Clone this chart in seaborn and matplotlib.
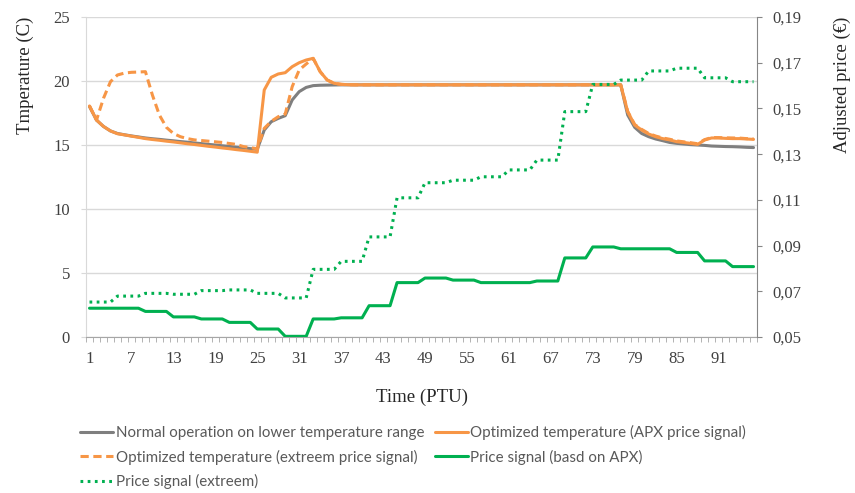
import numpy as np
import pandas as pd
import seaborn as sns
import matplotlib.pyplot as plt
from matplotlib.ticker import FixedLocator, FuncFormatter
from matplotlib.lines import Line2D

# ---------------------------------------------------------------- data
ptu = list(range(1, 97))
x_tick_labels = [1, 7, 13, 19, 25, 31, 37, 43, 49, 55, 61, 67, 73, 79, 85, 91]

temp_normal = [
    18.0, 16.95, 16.45, 16.1, 15.9, 15.8, 15.71, 15.63,
    15.55, 15.49, 15.44, 15.38, 15.33, 15.27, 15.22, 15.16,
    15.11, 15.05, 15.0, 14.94, 14.89, 14.83, 14.78, 14.72,
    14.66, 16.17, 16.82, 17.08, 17.29, 18.52, 19.17, 19.5,
    19.64, 19.67, 19.68, 19.69, 19.7, 19.7, 19.7, 19.7,
    19.7, 19.7, 19.7, 19.7, 19.7, 19.7, 19.7, 19.7,
    19.7, 19.7, 19.7, 19.7, 19.7, 19.7, 19.7, 19.7,
    19.7, 19.7, 19.7, 19.7, 19.7, 19.7, 19.7, 19.7,
    19.7, 19.7, 19.7, 19.7, 19.7, 19.7, 19.7, 19.7,
    19.7, 19.7, 19.7, 19.7, 19.7, 17.34, 16.38, 15.9,
    15.65, 15.47, 15.34, 15.2, 15.13, 15.08, 15.03, 15.0,
    14.97, 14.92, 14.9, 14.88, 14.87, 14.85, 14.82, 14.8,
]

temp_opt_apx = [
    18.05, 16.95, 16.45, 16.1, 15.88, 15.79, 15.69, 15.6,
    15.5, 15.43, 15.37, 15.3, 15.24, 15.17, 15.1, 15.04,
    14.97, 14.9, 14.84, 14.77, 14.71, 14.64, 14.58, 14.51,
    14.44, 19.3, 20.29, 20.55, 20.65, 21.12, 21.43, 21.64,
    21.77, 20.73, 20.08, 19.82, 19.74, 19.71, 19.7, 19.7,
    19.7, 19.7, 19.7, 19.7, 19.7, 19.7, 19.7, 19.7,
    19.7, 19.7, 19.7, 19.7, 19.7, 19.7, 19.7, 19.7,
    19.7, 19.7, 19.7, 19.7, 19.7, 19.7, 19.7, 19.7,
    19.7, 19.7, 19.7, 19.7, 19.7, 19.7, 19.7, 19.7,
    19.7, 19.7, 19.7, 19.7, 19.7, 17.6, 16.56, 16.17,
    15.86, 15.65, 15.5, 15.4, 15.26, 15.2, 15.13, 15.05,
    15.39, 15.55, 15.55, 15.52, 15.5, 15.5, 15.47, 15.44,
]

temp_opt_extreme = [
    18.05, 16.95, 18.65, 19.95, 20.47, 20.62, 20.68, 20.7,
    20.73, 18.9, 17.34, 16.38, 15.9, 15.65, 15.5, 15.4,
    15.35, 15.3, 15.25, 15.2, 15.12, 15.05, 14.88, 14.8,
    14.7, 16.3, 16.85, 17.21, 17.42, 19.56, 20.86, 21.33,
    21.77, 20.73, 20.08, 19.82, 19.74, 19.71, 19.7, 19.7,
    19.7, 19.7, 19.7, 19.7, 19.7, 19.7, 19.7, 19.7,
    19.7, 19.7, 19.7, 19.7, 19.7, 19.7, 19.7, 19.7,
    19.7, 19.7, 19.7, 19.7, 19.7, 19.7, 19.7, 19.7,
    19.7, 19.7, 19.7, 19.7, 19.7, 19.7, 19.7, 19.7,
    19.7, 19.7, 19.7, 19.7, 19.7, 17.62, 16.6, 16.22,
    15.9, 15.7, 15.55, 15.45, 15.32, 15.25, 15.18, 15.1,
    15.42, 15.58, 15.58, 15.56, 15.55, 15.54, 15.5, 15.48,
]

price_apx = [
    0.0626, 0.0626, 0.0626, 0.0626, 0.0626, 0.0626, 0.0626, 0.0626,
    0.0612, 0.0612, 0.0612, 0.0612, 0.0588, 0.0588, 0.0588, 0.0588,
    0.0579, 0.0579, 0.0579, 0.0579, 0.0564, 0.0564, 0.0564, 0.0564,
    0.0535, 0.0535, 0.0535, 0.0535, 0.0503, 0.0503, 0.0503, 0.0503,
    0.0579, 0.0579, 0.0579, 0.0579, 0.0584, 0.0584, 0.0584, 0.0584,
    0.0637, 0.0637, 0.0637, 0.0637, 0.0738, 0.0738, 0.0738, 0.0738,
    0.0758, 0.0758, 0.0758, 0.0758, 0.0749, 0.0749, 0.0749, 0.0749,
    0.0738, 0.0738, 0.0738, 0.0738, 0.0738, 0.0738, 0.0738, 0.0738,
    0.0745, 0.0745, 0.0745, 0.0745, 0.0846, 0.0846, 0.0846, 0.0846,
    0.0894, 0.0894, 0.0894, 0.0894, 0.0886, 0.0886, 0.0886, 0.0886,
    0.0886, 0.0886, 0.0886, 0.0886, 0.0870, 0.0870, 0.0870, 0.0870,
    0.0833, 0.0833, 0.0833, 0.0833, 0.0808, 0.0808, 0.0808, 0.0808,
]

price_extreme = [
    0.0653, 0.0653, 0.0653, 0.0653, 0.0679, 0.0679, 0.0679, 0.0679,
    0.0691, 0.0691, 0.0691, 0.0691, 0.0687, 0.0687, 0.0687, 0.0687,
    0.0703, 0.0703, 0.0703, 0.0703, 0.0706, 0.0706, 0.0706, 0.0706,
    0.0691, 0.0691, 0.0691, 0.0691, 0.0671, 0.0671, 0.0671, 0.0671,
    0.0796, 0.0796, 0.0796, 0.0796, 0.0831, 0.0831, 0.0831, 0.0831,
    0.0938, 0.0938, 0.0938, 0.0938, 0.1109, 0.1109, 0.1109, 0.1109,
    0.1175, 0.1175, 0.1175, 0.1175, 0.1186, 0.1186, 0.1186, 0.1186,
    0.1201, 0.1201, 0.1201, 0.1201, 0.1231, 0.1231, 0.1231, 0.1231,
    0.1274, 0.1274, 0.1274, 0.1274, 0.1486, 0.1486, 0.1486, 0.1486,
    0.1605, 0.1605, 0.1605, 0.1605, 0.1624, 0.1624, 0.1624, 0.1624,
    0.1664, 0.1664, 0.1664, 0.1664, 0.1676, 0.1676, 0.1676, 0.1676,
    0.1634, 0.1634, 0.1634, 0.1634, 0.1617, 0.1617, 0.1617, 0.1617,
]

labels = {
    "normal": "Normal operation on lower temperature range",
    "opt_apx": "Optimized temperature (APX price signal)",
    "opt_ext": "Optimized temperature (extreem price signal)",
    "price_apx": "Price signal (basd on APX)",
    "price_ext": "Price signal (extreem)",
}

# ---------------------------------------------------------------- style
sns.set_style("white")
plt.rcParams["font.family"] = ["Liberation Serif", "DejaVu Serif"]

GRAY = "#7F7F7F"
ORANGE = "#F79646"
GREEN = "#00B050"
TICK_TXT = "#404040"
LW = 2.2

temp_df = pd.DataFrame({"ptu": ptu, "normal": temp_normal,
                        "opt_apx": temp_opt_apx, "opt_ext": temp_opt_extreme})
price_df = pd.DataFrame({"ptu": ptu, "apx": price_apx, "ext": price_extreme})

fig = plt.figure(figsize=(8.55, 4.93), dpi=100)
ax = fig.add_axes([0.1006, 0.3164, 0.7848, 0.6491])
ax2 = ax.twinx()

# temperature series (left axis)
sns.lineplot(data=temp_df, x="ptu", y="normal", ax=ax, color=GRAY, lw=LW,
             solid_joinstyle="round", legend=False)
sns.lineplot(data=temp_df, x="ptu", y="opt_apx", ax=ax, color=ORANGE, lw=LW,
             solid_joinstyle="round", legend=False)
sns.lineplot(data=temp_df, x="ptu", y="opt_ext", ax=ax, color=ORANGE, lw=LW,
             dashes=False, legend=False)
ax.lines[-1].set_dashes((2.7, 1.5))

# price series (right axis)
sns.lineplot(data=price_df, x="ptu", y="apx", ax=ax2, color=GREEN, lw=LW,
             solid_joinstyle="round", legend=False)
sns.lineplot(data=price_df, x="ptu", y="ext", ax=ax2, color=GREEN, lw=LW,
             legend=False)
ax2.lines[-1].set_dashes((0.9, 1.45))

# ---------------------------------------------------------------- axes
ax.set_xlim(0.5, 96.5)
ax.set_ylim(0, 25)
ax2.set_ylim(0.05, 0.19)

ax.set_yticks([0, 5, 10, 15, 20, 25])
ax2.set_yticks([0.05, 0.07, 0.09, 0.11, 0.13, 0.15, 0.17, 0.19])
ax2.yaxis.set_major_formatter(FuncFormatter(lambda v, _: f"{v:.2f}".replace(".", ",")))

ax.xaxis.set_major_locator(FixedLocator(x_tick_labels))
ax.set_xticklabels([str(v) for v in x_tick_labels])
ax.xaxis.set_minor_locator(FixedLocator(np.arange(0.5, 97, 1.0)))

ax.grid(False)
ax.yaxis.grid(True, color="#D9D9D9", lw=1)
ax.set_axisbelow(True)
ax2.grid(False)

for sp in ["top", "right"]:
    ax.spines[sp].set_visible(False)
for sp in ["top", "left", "bottom"]:
    ax2.spines[sp].set_visible(False)
ax.spines["left"].set_color("#D9D9D9")
ax.spines["bottom"].set_color("#A6A6A6")
ax2.spines["right"].set_color("#868686")

ax.tick_params(axis="y", length=3.6, color="#D9D9D9", pad=8,
               labelsize=12, labelcolor=TICK_TXT, left=True)
ax.tick_params(axis="x", which="major", length=0, pad=10,
               labelsize=12, labelcolor=TICK_TXT)
ax.tick_params(axis="x", which="minor", length=3.6, color="#A6A6A6",
               direction="out", bottom=True)
ax2.tick_params(axis="y", length=3.6, color="#868686", pad=7.5,
                labelsize=12, labelcolor=TICK_TXT, right=True)

ax.set_xlabel("Time (PTU)", fontsize=13.5, color="#262626", labelpad=16)
ax.set_ylabel("Tmperature (C)", fontsize=13.5, color="#262626",
              loc="top", labelpad=14)
ax2.set_ylabel("Adjusted price (€)", fontsize=13.5, color="#262626",
               loc="top", labelpad=23)

# ---------------------------------------------------------------- legend
h_normal = Line2D([], [], color=GRAY, lw=LW)
h_apx = Line2D([], [], color=ORANGE, lw=LW)
h_ext = Line2D([], [], color=ORANGE, lw=LW, dashes=(2.7, 1.5))
h_papx = Line2D([], [], color=GREEN, lw=LW)
h_pext = Line2D([], [], color=GREEN, lw=LW, dashes=(0.9, 1.45))

handles = [h_normal, h_ext, h_pext, h_apx, h_papx]
names = [labels["normal"], labels["opt_ext"], labels["price_ext"],
         labels["opt_apx"], labels["price_apx"]]
leg = fig.legend(handles, names, loc="upper left",
                 bbox_to_anchor=(80 / 855, 1 - 425 / 493), ncol=2,
                 frameon=False, borderpad=0, borderaxespad=0,
                 handlelength=2.2, handletextpad=0.15, columnspacing=0.7,
                 labelspacing=0.62,
                 prop={"family": ["Lato", "DejaVu Sans"], "size": 10.9})
for t in leg.get_texts():
    t.set_color("#595959")

fig.savefig("out.png", dpi=100)
